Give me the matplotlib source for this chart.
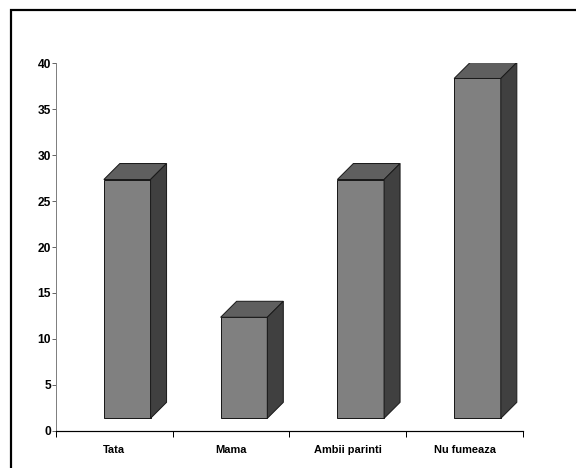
import matplotlib.pyplot as plt
from matplotlib.patches import Polygon, Rectangle
import numpy as np

categories = ["Tata", "Mama", "Ambii parinti", "Nu fumeaza"]
values = [26, 11, 26, 37]
yticks = [0, 5, 10, 15, 20, 25, 30, 35, 40]

plt.rcParams['font.family'] = ['Liberation Sans', 'DejaVu Sans']

fig = plt.figure(figsize=(8, 6.5), dpi=72)
ax = fig.add_axes([0.0972, 0.0797, 0.8108, 0.785])

# 3d look: front face sits a bit above the floor, depth goes up-right
base = 1.35
width = 0.40
shift = -0.09
dx = 0.137
dy = 1.74

front_c = "#808080"
top_c = "#5f5f5f"
side_c = "#404040"

x = np.arange(len(categories))
for xi, v in zip(x, values):
    x0 = xi + shift
    x1 = x0 + width
    y1 = base + v
    ax.bar(x0, v, width=width, bottom=base, align="edge",
           color=front_c, edgecolor="#1a1a1a", linewidth=1.0, zorder=3)
    top = [(x0, y1), (x1, y1), (x1 + dx, y1 + dy), (x0 + dx, y1 + dy)]
    side = [(x1, base), (x1 + dx, base + dy), (x1 + dx, y1 + dy), (x1, y1)]
    ax.add_patch(Polygon(top, closed=True, facecolor=top_c, edgecolor="#1a1a1a",
                         linewidth=1.0, zorder=3))
    ax.add_patch(Polygon(side, closed=True, facecolor=side_c, edgecolor="#1a1a1a",
                         linewidth=1.0, zorder=3))

ax.set_xlim(-0.5, len(categories) - 0.5)
ax.set_ylim(0, 40)
ax.set_yticks(yticks)
ax.set_yticklabels([str(t) for t in yticks], fontsize=12, fontweight="bold")
ax.tick_params(axis="y", length=4, width=0.8, pad=1, color="#404040")

ax.set_xticks(x)
ax.set_xticklabels(categories, fontsize=11, fontweight="bold")
ax.tick_params(axis="x", length=0, pad=14)
ax.set_xticks(np.arange(len(categories) + 1) - 0.5, minor=True)
ax.tick_params(axis="x", which="minor", length=6, width=1.0, color="black")

for s in ["top", "right"]:
    ax.spines[s].set_visible(False)
ax.spines["left"].set_color("#808080")
ax.spines["left"].set_linewidth(1.0)
ax.spines["bottom"].set_color("black")
ax.spines["bottom"].set_linewidth(1.2)

# outer frame around the chart area
fig.patches.append(Rectangle((11 / 576, -0.1), 1.2, 1 - 10 / 468 + 0.1,
                             transform=fig.transFigure, fill=False,
                             edgecolor="black", linewidth=2.2))

fig.savefig("out.png", dpi=72)
